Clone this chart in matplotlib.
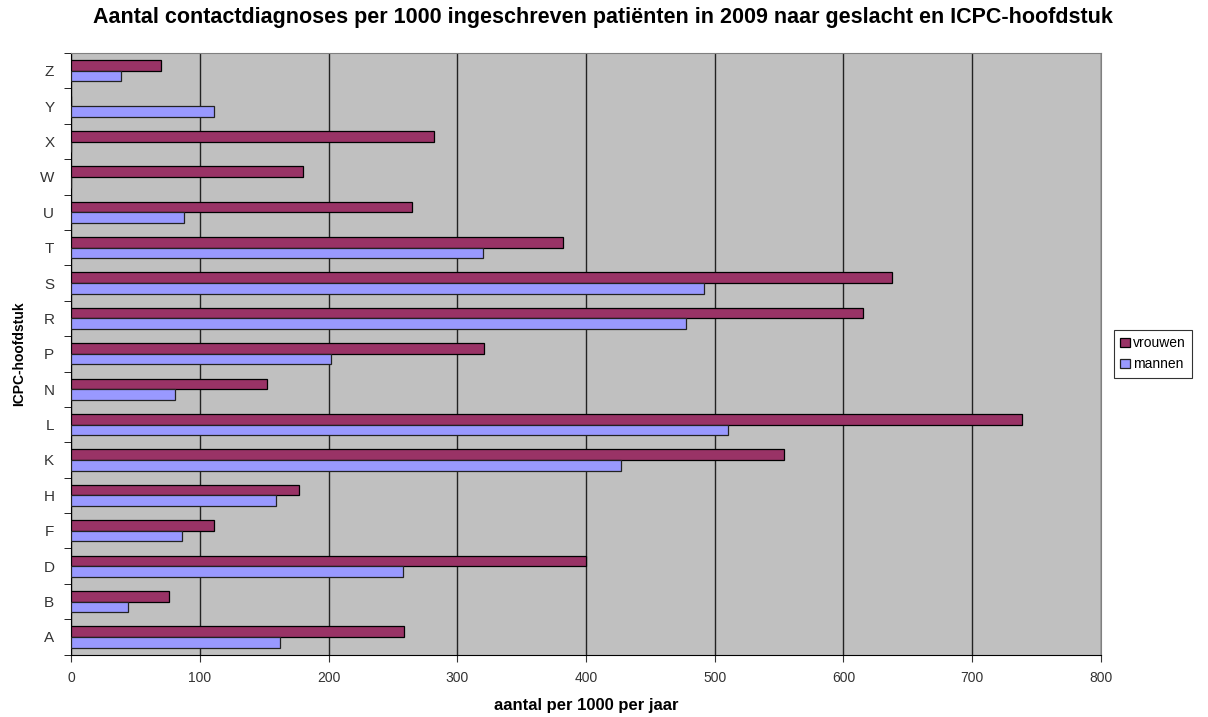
import matplotlib
matplotlib.use("Agg")
import matplotlib.pyplot as plt
import numpy as np

plt.rcParams['font.family'] = ['Liberation Sans', 'DejaVu Sans']

categories = ['A', 'B', 'D', 'F', 'H', 'K', 'L', 'N', 'P', 'R', 'S', 'T', 'U', 'W', 'X', 'Y', 'Z']
vrouwen = [259, 76, 400, 111, 177, 554, 739, 152, 321, 615, 638, 382, 265, 180, 282, 0, 70]
mannen = [162, 44, 258, 86, 159, 427, 510, 81, 202, 478, 492, 320, 88, 0, 0, 111, 39]

fig = plt.figure(figsize=(12.08, 7.17), dpi=100)
ax = fig.add_axes([0.0588, 0.087, 0.8526, 0.839])
ax.set_facecolor('#c0c0c0')

y = np.arange(len(categories))
h = 0.3
ax.barh(y + h / 2, vrouwen, height=h, color='#993366', edgecolor='black', linewidth=0.9, label='vrouwen', zorder=3)
ax.barh(y - h / 2, mannen, height=h, color='#9999ff', edgecolor='#222222', linewidth=0.9, label='mannen', zorder=3)

ax.set_xlim(0, 800)
ax.set_ylim(-0.5, len(categories) - 0.5)
ax.set_xticks(range(0, 801, 100))
ax.set_yticks(y)
ax.set_yticklabels(categories)
ax.set_yticks(np.arange(-0.5, len(categories), 1), minor=True)
ax.tick_params(axis='y', which='major', length=0, labelsize=11, pad=12, colors='#333333')
ax.tick_params(axis='y', which='minor', length=5, direction='out')
ax.tick_params(axis='x', length=5, labelsize=10, pad=7, colors='#333333')
ax.xaxis.grid(True, color='#222222', linewidth=1.0, zorder=1)
ax.set_axisbelow(True)

for s in ['top', 'right']:
    ax.spines[s].set_color('#808080')
ax.spines['left'].set_color('black')
ax.spines['bottom'].set_color('black')

ax.set_xlabel('aantal per 1000 per jaar', fontsize=12, fontweight='bold', labelpad=9)
ax.set_ylabel('ICPC-hoofdstuk', fontsize=10, fontweight='bold', labelpad=10)
fig.suptitle('Aantal contactdiagnoses per 1000 ingeschreven patiënten in 2009 naar geslacht en ICPC-hoofdstuk',
             fontsize=15.5, fontweight='bold', x=0.499, y=0.99)

leg = ax.legend(loc='center left', bbox_to_anchor=(1.006, 0.5), fontsize=10, frameon=True,
                fancybox=False, edgecolor='black', handlelength=0.7, handleheight=0.7,
                handletextpad=0.2, borderpad=0.45, labelspacing=0.5)
leg.get_frame().set_linewidth(0.8)

fig.savefig('out.png', dpi=100, facecolor='white')
